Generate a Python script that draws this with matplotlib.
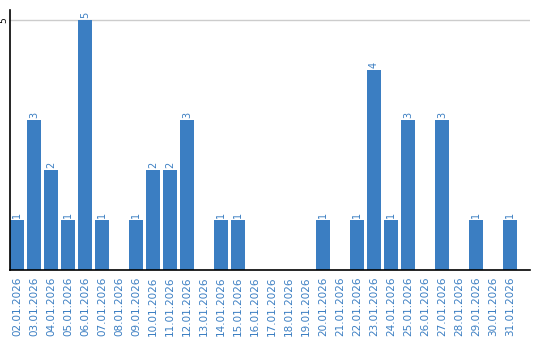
import matplotlib
matplotlib.use("Agg")
import matplotlib.pyplot as plt

dates = ["02.01.2026", "03.01.2026", "04.01.2026", "05.01.2026", "06.01.2026",
         "07.01.2026", "08.01.2026", "09.01.2026", "10.01.2026", "11.01.2026",
         "12.01.2026", "13.01.2026", "14.01.2026", "15.01.2026", "16.01.2026",
         "17.01.2026", "18.01.2026", "19.01.2026", "20.01.2026", "21.01.2026",
         "22.01.2026", "23.01.2026", "24.01.2026", "25.01.2026", "26.01.2026",
         "27.01.2026", "28.01.2026", "29.01.2026", "30.01.2026", "31.01.2026"]
values = [1, 3, 2, 1, 5, 1, 0, 1, 2, 2, 3, 0, 1, 1, 0,
          0, 0, 0, 1, 0, 1, 4, 1, 3, 0, 3, 0, 1, 0, 1]
yticks = [5]

color = "#3b7ec2"
fig = plt.figure(figsize=(5.4, 3.4), dpi=100)
ax = fig.add_axes([10/540, 70/340, 520/540, 260/340])

x = list(range(len(dates)))
bars = ax.bar(x, values, width=0.82, color=color, zorder=2)
for xi, v in zip(x, values):
    if v > 0:
        ax.text(xi, v + 0.05, str(v), rotation=90, ha="center", va="bottom",
                fontsize=7, color=color)

ax.set_xlim(-0.41, 30.18)
ax.set_ylim(0, 5.2)
ax.set_yticks(yticks)
ax.set_yticklabels([str(t) for t in yticks], rotation=90, va="center", fontsize=6.5)
ax.tick_params(axis="y", length=0, pad=1)
ax.set_xticks(x)
ax.set_xticklabels(dates, rotation=90, fontsize=7.5, color=color)
ax.tick_params(axis="x", length=0, pad=5)
ax.grid(axis="y", color="#cccccc", linewidth=1, zorder=0)
for s in ["top", "right"]:
    ax.spines[s].set_visible(False)
ax.spines["left"].set_linewidth(1.2)
ax.spines["bottom"].set_linewidth(1.2)

fig.savefig("out.png", dpi=100)
